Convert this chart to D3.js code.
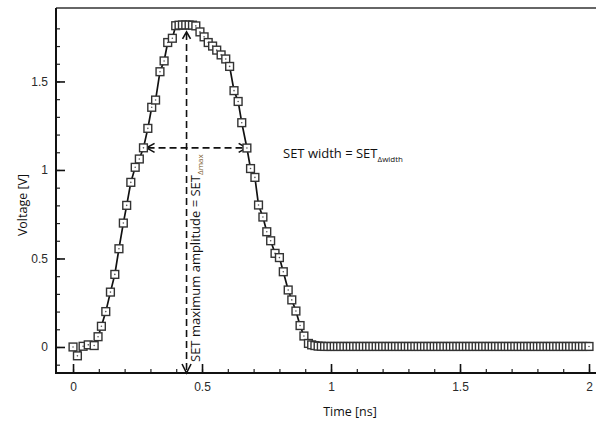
<!DOCTYPE html>
<html>
<head>
<meta charset="utf-8">
<script src="https://cdn.jsdelivr.net/npm/d3@7/dist/d3.min.js"></script>
<style>
  body { margin: 0; background: #fff; }
  svg { display: block; }
</style>
</head>
<body>
<div class="chart__container"></div>
<script>
// SET pulse
const pulseTime = [
  0.000, 0.017, 0.039, 0.059, 0.082, 0.097, 0.110, 0.127, 0.145, 0.162,
  0.178, 0.195, 0.208, 0.224, 0.241, 0.257, 0.273, 0.290, 0.305, 0.320,
  0.337, 0.353, 0.367, 0.385, 0.398, 0.411, 0.424, 0.437, 0.450, 0.463,
  0.476, 0.492, 0.508, 0.524, 0.541, 0.557, 0.574, 0.592, 0.607, 0.624,
  0.640, 0.654, 0.674, 0.688, 0.705, 0.719, 0.736, 0.751, 0.766, 0.783,
  0.800, 0.815, 0.834, 0.848, 0.864, 0.880, 0.895
];
const pulseVolt = [
  0.000, -0.050, 0.004, 0.012, 0.008, 0.058, 0.117, 0.200, 0.310, 0.410,
  0.555, 0.700, 0.800, 0.930, 1.015, 1.062, 1.125, 1.235, 1.354, 1.395,
  1.555, 1.616, 1.720, 1.744, 1.815, 1.818, 1.819, 1.819, 1.819, 1.818,
  1.814, 1.780, 1.752, 1.720, 1.700, 1.677, 1.650, 1.627, 1.585, 1.448,
  1.387, 1.267, 1.124, 1.008, 0.958, 0.802, 0.734, 0.651, 0.600, 0.529,
  0.505, 0.425, 0.322, 0.266, 0.203, 0.121, 0.062
];
// flat tail after the pulse
const tailTime = [
  0.9125, 0.925, 0.9375, 0.95, 0.9625, 0.975, 0.9875,
  1.0, 1.0125, 1.025, 1.0375, 1.05, 1.0625, 1.075, 1.0875,
  1.1, 1.1125, 1.125, 1.1375, 1.15, 1.1625, 1.175, 1.1875,
  1.2, 1.2125, 1.225, 1.2375, 1.25, 1.2625, 1.275, 1.2875,
  1.3, 1.3125, 1.325, 1.3375, 1.35, 1.3625, 1.375, 1.3875,
  1.4, 1.4125, 1.425, 1.4375, 1.45, 1.4625, 1.475, 1.4875,
  1.5, 1.5125, 1.525, 1.5375, 1.55, 1.5625, 1.575, 1.5875,
  1.6, 1.6125, 1.625, 1.6375, 1.65, 1.6625, 1.675, 1.6875,
  1.7, 1.7125, 1.725, 1.7375, 1.75, 1.7625, 1.775, 1.7875,
  1.8, 1.8125, 1.825, 1.8375, 1.85, 1.8625, 1.875, 1.8875,
  1.9, 1.9125, 1.925, 1.9375, 1.95, 1.9625, 1.975, 1.9875,
  2.0
];
const tailVolt = [
  0.020, 0.012, 0.008, 0.005, 0.004, 0.003, 0.003,
  0.003, 0.003, 0.003, 0.003, 0.003, 0.003, 0.003, 0.003,
  0.003, 0.003, 0.003, 0.003, 0.003, 0.003, 0.003, 0.003,
  0.003, 0.003, 0.003, 0.003, 0.003, 0.003, 0.003, 0.003,
  0.003, 0.003, 0.003, 0.003, 0.003, 0.003, 0.003, 0.003,
  0.003, 0.003, 0.003, 0.003, 0.003, 0.003, 0.003, 0.003,
  0.003, 0.003, 0.003, 0.003, 0.003, 0.003, 0.003, 0.003,
  0.003, 0.003, 0.003, 0.003, 0.003, 0.003, 0.003, 0.003,
  0.003, 0.003, 0.003, 0.003, 0.003, 0.003, 0.003, 0.003,
  0.003, 0.003, 0.003, 0.003, 0.003, 0.003, 0.003, 0.003,
  0.003, 0.003, 0.003, 0.003, 0.003, 0.003, 0.003, 0.003,
  0.003
];

const xTicks = [0, 0.5, 1, 1.5, 2];
const yTicks = [0, 0.5, 1, 1.5];

// annotation anchors (data units)
const peakTime = 0.44;
const peakTop = 1.78;
const widthLevel = 1.125;
const widthStart = 0.285;
const widthEnd = 0.673;

const W = 596, H = 427;
const box = { left: 56, right: 597, top: 8, bottom: 373 };

const data = pulseTime.map((t, i) => ({ t, v: pulseVolt[i] }))
  .concat(tailTime.map((t, i) => ({ t, v: tailVolt[i] })));

const svg = d3.select(".chart__container")
  .append("svg")
  .attr("width", W)
  .attr("height", H);

const x = d3.scaleLinear().domain([-0.066, 2.031]).range([box.left, box.right]);
const y = d3.scaleLinear().domain([-0.147, 1.915]).range([box.bottom, box.top]);

// minor ticks
svg.append("g")
  .attr("transform", `translate(0,${box.bottom})`)
  .call(d3.axisBottom(x).tickValues(x.ticks(20)).tickSize(-4).tickFormat(""))
  .call(g => g.select(".domain").remove())
  .selectAll("line").attr("stroke", "#222").attr("stroke-width", 1.2);

svg.append("g")
  .attr("transform", `translate(${box.left},0)`)
  .call(d3.axisLeft(y).tickValues(y.ticks(20).filter(d => d <= 1.85)).tickSize(-4).tickFormat(""))
  .call(g => g.select(".domain").remove())
  .selectAll("line").attr("stroke", "#222").attr("stroke-width", 1.2);

// major ticks + labels
const xAxis = svg.append("g")
  .attr("transform", `translate(0,${box.bottom})`)
  .call(d3.axisBottom(x).tickValues(xTicks).tickSize(-9).tickPadding(9).tickFormat(d => d));
xAxis.select(".domain").remove();
xAxis.selectAll("line").attr("stroke", "#111").attr("stroke-width", 1.6);
xAxis.selectAll("text")
  .attr("font-family", "Liberation Sans, Arial, sans-serif")
  .attr("font-size", 12)
  .attr("fill", "#2a2a2a");

const yAxis = svg.append("g")
  .attr("transform", `translate(${box.left},0)`)
  .call(d3.axisLeft(y).tickValues(yTicks).tickSize(-9).tickPadding(8).tickFormat(d => d));
yAxis.select(".domain").remove();
yAxis.selectAll("line").attr("stroke", "#111").attr("stroke-width", 1.6);
yAxis.selectAll("text")
  .attr("font-family", "Liberation Sans, Arial, sans-serif")
  .attr("font-size", 12)
  .attr("fill", "#2a2a2a");

// frame
svg.append("path")
  .attr("d", `M${box.left},${box.top}H${box.right}`)
  .attr("stroke", "#333").attr("stroke-width", 1.5).attr("fill", "none");
svg.append("path")
  .attr("d", `M${box.left},${box.top}V${box.bottom}H${box.right}`)
  .attr("stroke", "#111").attr("stroke-width", 2).attr("fill", "none");

// axis titles
svg.append("text")
  .attr("transform", `translate(27,205) rotate(-90)`)
  .attr("text-anchor", "middle")
  .attr("font-family", "Open Sans, sans-serif")
  .attr("font-size", 12.5)
  .attr("fill", "#111")
  .text("Voltage [V]");

svg.append("text")
  .attr("x", 350)
  .attr("y", 416)
  .attr("text-anchor", "middle")
  .attr("font-family", "Open Sans, sans-serif")
  .attr("font-size", 12.5)
  .attr("fill", "#111")
  .text("Time [ns]");

// the line
const line = d3.line().x(d => x(d.t)).y(d => y(d.v));
svg.append("path")
  .datum(data)
  .attr("fill", "none")
  .attr("stroke", "#111")
  .attr("stroke-width", 1.7)
  .attr("d", line);

// dashed annotations
const dash = "7,4";
const xp = x(peakTime);
svg.append("line")
  .attr("x1", xp).attr("x2", xp)
  .attr("y1", y(peakTop) + 1).attr("y2", box.bottom - 2)
  .attr("stroke", "#111").attr("stroke-width", 1.6).attr("stroke-dasharray", dash);
svg.append("line")
  .attr("x1", x(widthStart) + 1).attr("x2", x(widthEnd) - 1)
  .attr("y1", y(widthLevel)).attr("y2", y(widthLevel))
  .attr("stroke", "#111").attr("stroke-width", 1.6).attr("stroke-dasharray", dash);

// arrow heads
const yw = y(widthLevel);
const heads = [
  `M${x(widthStart) + 8},${yw - 4.5}L${x(widthStart)},${yw}L${x(widthStart) + 8},${yw + 4.5}`,
  `M${x(widthEnd) - 8},${yw - 4.5}L${x(widthEnd)},${yw}L${x(widthEnd) - 8},${yw + 4.5}`,
  `M${xp - 4},${y(peakTop) + 7}L${xp},${y(peakTop)}L${xp + 4},${y(peakTop) + 7}`,
  `M${xp - 4.5},${box.bottom - 9}L${xp},${box.bottom}L${xp + 4.5},${box.bottom - 9}`
];
svg.append("g").selectAll("path")
  .data(heads)
  .enter()
  .append("path")
  .attr("d", d => d)
  .attr("fill", "none")
  .attr("stroke", "#111")
  .attr("stroke-width", 1.6);

// markers
const marks = svg.append("g")
  .selectAll("g")
  .data(data)
  .enter()
  .append("g")
  .attr("transform", d => `translate(${x(d.t)},${y(d.v)})`);

marks.append("rect")
  .attr("x", -3.9).attr("y", -3.9)
  .attr("width", 7.8).attr("height", 7.8)
  .attr("fill", "#fff")
  .attr("stroke", "#333")
  .attr("stroke-width", 1.4);

marks.append("circle")
  .attr("r", 0.8)
  .attr("fill", "#555");

// labels
const width = svg.append("text")
  .attr("x", 283)
  .attr("y", 158)
  .attr("font-family", "Open Sans, sans-serif")
  .attr("font-size", 13)
  .attr("fill", "#111");
width.append("tspan").text("SET width = SET");
width.append("tspan").attr("font-size", 8).attr("dy", 3.5).text("Δwidth");

const amp = svg.append("text")
  .attr("transform", `translate(${xp + 13},${box.bottom - 11}) rotate(-90)`)
  .attr("font-family", "Open Sans, sans-serif")
  .attr("font-size", 13)
  .attr("fill", "#111");
amp.append("tspan").text("SET maximum amplitude = SET");
amp.append("tspan").attr("font-size", 8).attr("dy", 3.5).attr("fill", "#7a5a2a").text("Δmax");
</script>
</body>
</html>
